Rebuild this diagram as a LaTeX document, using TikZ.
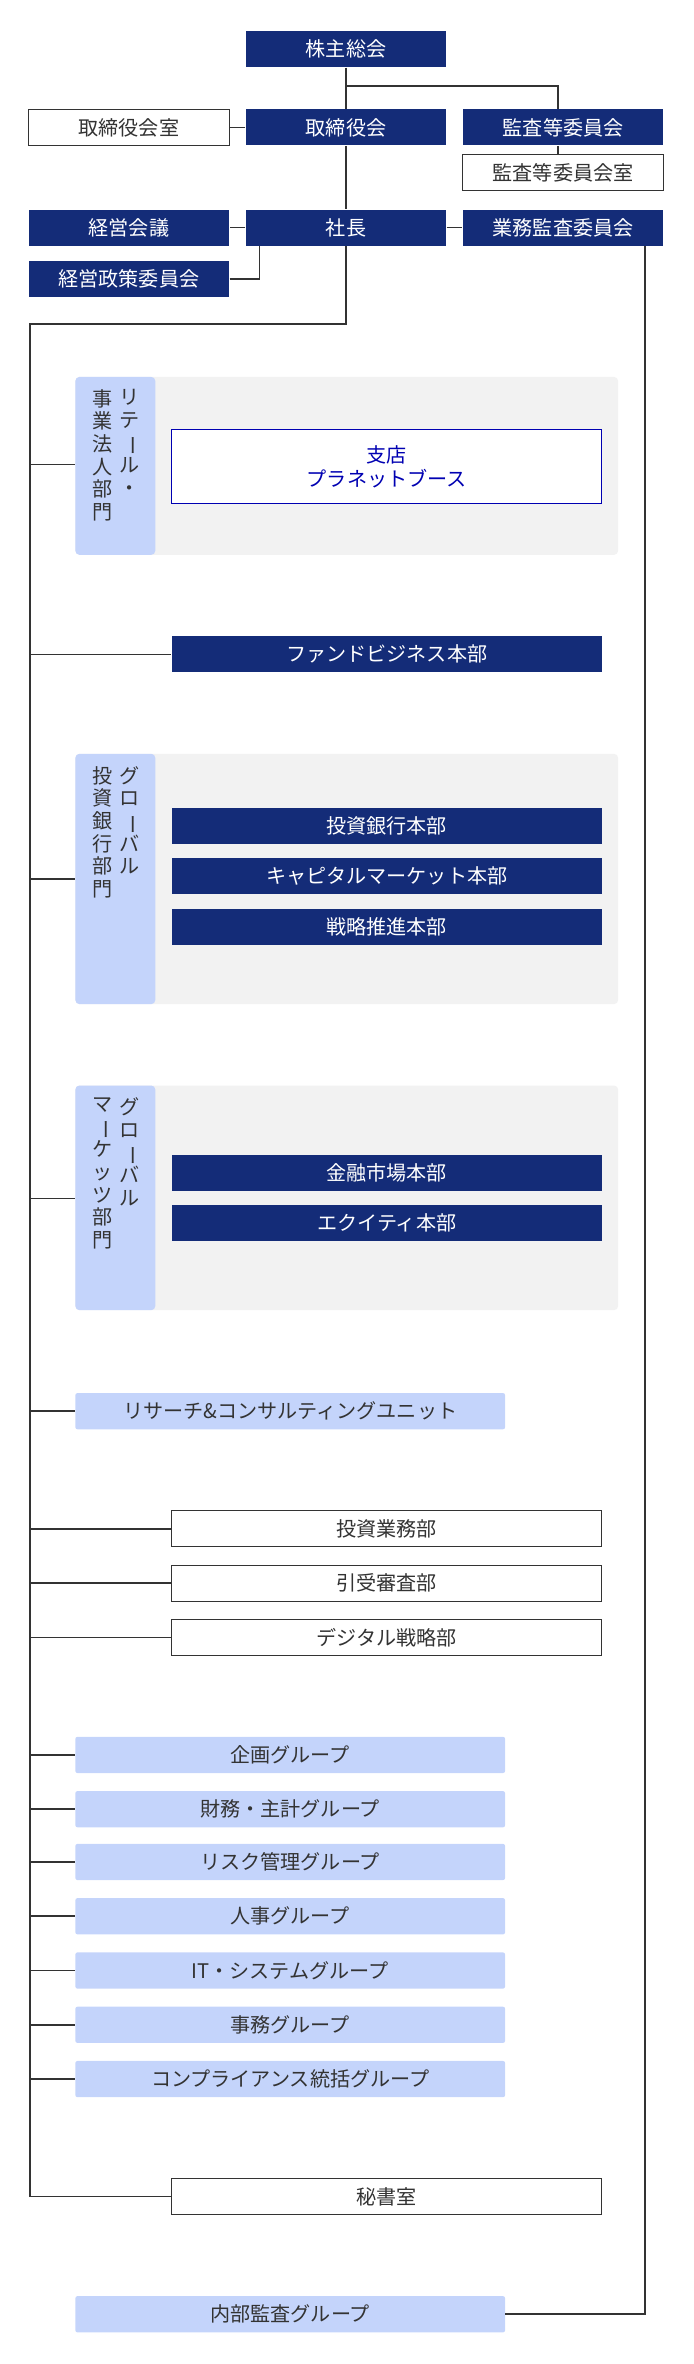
\documentclass[tikz,border=0pt]{standalone}
\usepackage{fontspec}
\setmainfont{Noto Sans CJK JP}
\usepackage{graphicx}
\usetikzlibrary{positioning}
\definecolor{navy}{HTML}{142C78}
\definecolor{lightblue}{HTML}{C4D4FB}
\definecolor{panelgray}{HTML}{F2F2F2}
\definecolor{linegray}{HTML}{333333}
\newcommand{\vbar}{\rotatebox[origin=c]{-90}{ー}}
\begin{document}
\begin{tikzpicture}[x=0.75pt, y=-0.75pt,
          font=\fontsize{10}{11}\selectfont,
          navybox/.style ={fill=navy, text=white, minimum height=18pt, inner sep=0},
          whitebox/.style ={draw=linegray, fill=white, text=linegray, minimum height=18pt, inner sep=0},
          bluebox/.style ={fill=lightblue, text=linegray, minimum height=18pt, inner sep=0, rounded corners=1pt},
          conn/.style ={draw=linegray, line width=0.8pt},
          vtext/.style ={text=linegray, align=center, inner sep=0, anchor=north, font=\fontsize{10}{11.25}\selectfont}
          ]
\useasboundingbox (0,0) rectangle (460,1568);

% top management
\node[navybox, minimum width=99.75pt] (agm) at (229.5,32.5) {株主総会};
\node[navybox, minimum width=99.75pt] (board) at (229.5,84.5) {取締役会};
\node[whitebox, minimum width=99.75pt] (boardoffice) at (85.5,84.5) {取締役会室};
\node[navybox, minimum width=99.75pt] (audit) at (373.5,84.5) {監査等委員会};
\node[whitebox, minimum width=99.75pt] (auditoffice) at (373.5,114.5) {監査等委員会室};
\node[navybox, minimum width=99.75pt] (ceo) at (229.5,151) {社長};
\node[navybox, minimum width=99.75pt] (mgmt) at (85.5,151) {経営会議};
\node[navybox, minimum width=99.75pt] (policy) at (85.5,185) {経営政策委員会};
\node[navybox, minimum width=99.75pt] (bizaudit) at (373.5,151) {業務監査委員会};

\draw[conn] (agm) -- (board);
\draw[conn] (229.5,57) -| (audit.north -| 370,0);
\draw[conn] (board) -- (boardoffice);
\draw[conn] (audit.south -| 370,0) -- (auditoffice.north -| 370,0);
\draw[conn] (board) -- (ceo);
\draw[conn] (ceo) -- (mgmt);
\draw[conn] (ceo) -- (bizaudit);
\draw[conn] (policy.east) -| (172,163);

% spine
\coordinate (spinetop) at (229.5,215);
\coordinate (spinebot) at (20,1457);
\draw[conn] (ceo.south) -- (spinetop) -| (spinebot);

% panels
\foreach \top/\bot/\cy in {250/368/308, 500/666/583, 720/869/795}{
\fill[panelgray, rounded corners=2pt] (50,\top) rectangle (410,\bot);
\fill[lightblue, rounded corners=2pt] (50,\top) rectangle (103,\bot);
\draw[conn] (20,\cy) -- (50,\cy);
}
\node[vtext] (retailA) at (86,258) {リ\\テ\\\vbar\\ル\\・};
\node[vtext] (retailB) at (68,258) {事\\業\\法\\人\\部\\門};
\node[draw=blue!70!black, fill=white, text=blue!70!black, minimum width=213.75pt, minimum height=36.75pt, align=center, inner sep=0, font=\fontsize{10}{12}\selectfont] (branch) at (256.5,309.5) {支店\\プラネットブース};
\node[vtext] (ibA) at (86,508) {グ\\ロ\\\vbar\\バ\\ル};
\node[vtext] (ibB) at (68,508) {投\\資\\銀\\行\\部\\門};
\node[vtext] (gmA) at (86,728) {グ\\ロ\\\vbar\\バ\\ル};
\node[vtext] (gmB) at (68,728) {マ\\\vbar\\ケ\\ッ\\ツ\\部\\門};

\node[navybox, minimum width=213.75pt] (fund) at (256.5,434) {ファンドビジネス本部};
\draw[conn] (20,434) -- (fund);
\node[navybox, minimum width=213.75pt] (ibhq) at (256.5,548) {投資銀行本部};
\node[navybox, minimum width=213.75pt] (cmhq) at (256.5,581) {キャピタルマーケット本部};
\node[navybox, minimum width=213.75pt] (strat) at (256.5,615) {戦略推進本部};
\node[navybox, minimum width=213.75pt] (fmhq) at (256.5,778) {金融市場本部};
\node[navybox, minimum width=213.75pt] (eqhq) at (256.5,811) {エクイティ本部};

% research
\node[bluebox, minimum width=213.75pt] (research) at (192.5,936) {リサーチ\&コンサルティングユニット};
\draw[conn] (20,936) -- (research);

% departments
\foreach \name/\y/\txt in {invest/1014/投資業務部, underwrite/1050/引受審査部, digital/1086/デジタル戦略部, secretary/1457/秘書室}{
\node[whitebox, minimum width=213.75pt] (\name) at (256.5,\y) {\txt};
\draw[conn] (20,\y) -- (\name);
}

% groups
\foreach \name/\y/\txt in {plan/1164/企画グループ, finance/1200/財務・主計グループ, risk/1235/リスク管理グループ, hr/1271/人事グループ, it/1307/IT・システムグループ, ops/1343/事務グループ, comp/1379/コンプライアンス統括グループ}{
\node[bluebox, minimum width=213.75pt] (\name) at (192.5,\y) {\txt};
\draw[conn] (20,\y) -- (\name);
}

% internal audit
\node[bluebox, minimum width=213.75pt] (intaudit) at (192.5,1535) {内部監査グループ};
\draw[conn] (bizaudit.south -| 428,0) |- (intaudit.east);
\end{tikzpicture}
\end{document}
